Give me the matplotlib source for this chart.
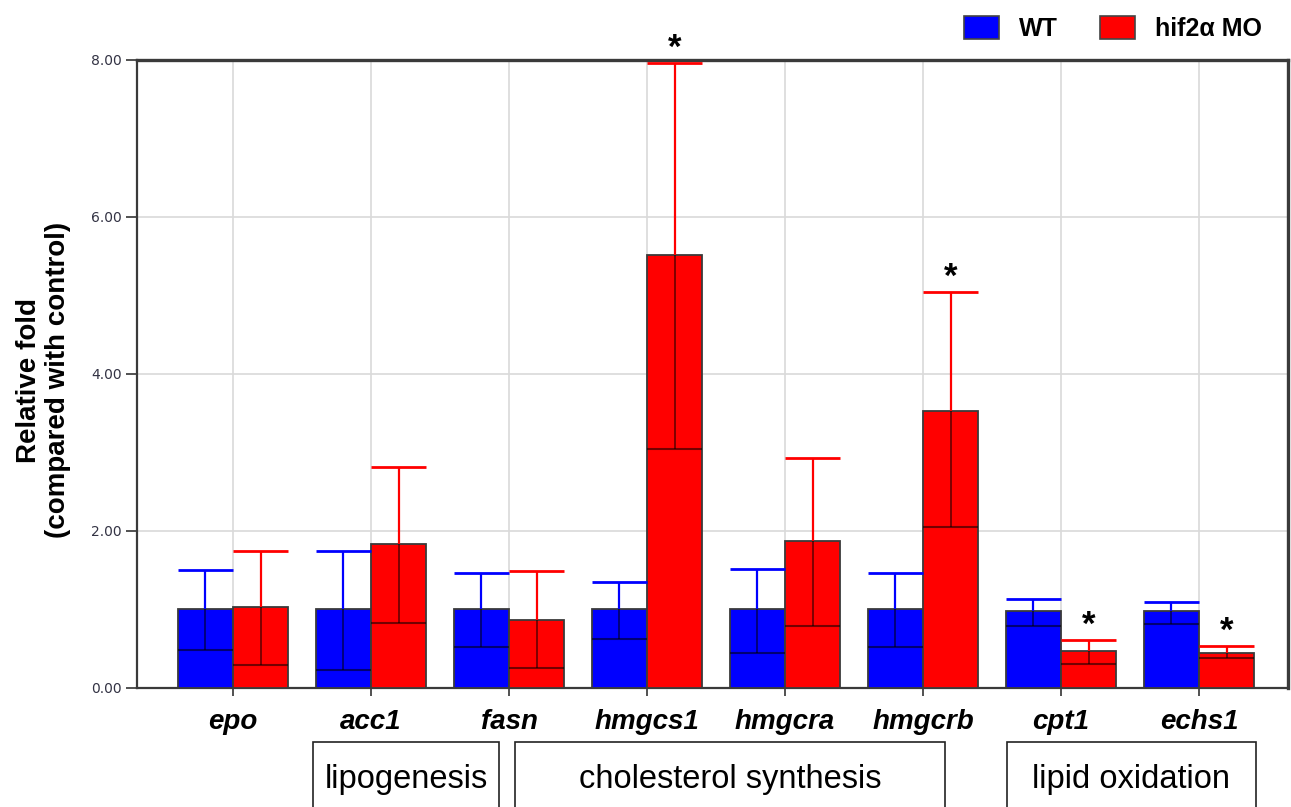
import matplotlib.pyplot as plt
import matplotlib.transforms as mtransforms
from matplotlib.patches import Patch, Rectangle
import numpy as np

plt.rcParams['font.family'] = ['Liberation Sans', 'DejaVu Sans']

genes = ['epo', 'acc1', 'fasn', 'hmgcs1', 'hmgcra', 'hmgcrb', 'cpt1', 'echs1']

# mean relative fold, top of error bar, bottom of error bar
wt_mean = [1.00, 1.00, 1.00, 1.00, 1.00, 1.00, 0.98, 0.98]
wt_upper = [1.50, 1.75, 1.46, 1.35, 1.51, 1.46, 1.13, 1.10]
wt_lower = [0.48, 0.23, 0.52, 0.62, 0.44, 0.52, 0.79, 0.82]

mo_mean = [1.03, 1.83, 0.87, 5.52, 1.87, 3.53, 0.47, 0.44]
mo_upper = [1.75, 2.81, 1.49, 7.96, 2.93, 5.04, 0.61, 0.53]
mo_lower = [0.29, 0.83, 0.26, 3.04, 0.79, 2.05, 0.31, 0.38]

significant = [False, False, False, True, False, True, True, True]

groups = ['lipogenesis', 'cholesterol synthesis', 'lipid oxidation']
group_spans = [(0.58, 1.93), (2.04, 5.16), (5.61, 7.41)]

series_labels = ['WT', 'hif2\u03b1 MO']
colors = ['#0000ff', '#ff0000']

fig = plt.figure(figsize=(12.91, 8.07), dpi=100)
ax = fig.add_axes([0.1061, 0.1475, 0.8916, 0.7782])

x = np.arange(len(genes))
w = 0.40

def draw_series(xpos, mean, upper, lower, color):
    ax.bar(xpos, mean, width=w, color=color, edgecolor='#3a3a3a', linewidth=1.3, zorder=3)
    # upper whisker in the series colour
    ax.vlines(xpos, mean, upper, color=color, lw=1.6, zorder=4)
    ax.hlines(upper, xpos - w / 2, xpos + w / 2, color=color, lw=2.0, zorder=4)
    # lower whisker drawn inside the bar
    ax.vlines(xpos, lower, mean, color='k', alpha=0.55, lw=1.3, zorder=4)
    ax.hlines(lower, xpos - w / 2, xpos + w / 2, color='k', alpha=0.55, lw=1.5, zorder=4)

draw_series(x - w / 2, wt_mean, wt_upper, wt_lower, colors[0])
draw_series(x + w / 2, mo_mean, mo_upper, mo_lower, colors[1])

for xi, up, sig in zip(x, mo_upper, significant):
    if sig:
        ax.text(xi + w / 2, up - 0.02, '*', ha='center', va='bottom',
                fontsize=25, fontweight='bold', zorder=5)

ax.set_xlim(-0.696, 7.645)
ax.set_ylim(0, 8)
ax.set_yticks([0, 2, 4, 6, 8])
ax.set_yticklabels(['0.00', '2.00', '4.00', '6.00', '8.00'],
                   fontsize=10, color='#333344', family='DejaVu Sans')
ax.set_xticks(x)
ax.set_xticklabels(genes, fontsize=20, fontweight='bold', fontstyle='italic')
ax.tick_params(axis='x', length=6, width=1.2, color='#333333', pad=9)
ax.tick_params(axis='y', length=8, width=1.2, color='#333333', pad=3)

ax.grid(True, color='#d9d9d9', lw=1.2)
ax.set_axisbelow(True)
for side in ['left', 'bottom', 'top', 'right']:
    ax.spines[side].set_color('#3a3a3a')
    ax.spines[side].set_linewidth(1.6)
ax.spines['top'].set_linewidth(2.4)
ax.spines['right'].set_linewidth(2.4)

ax.set_ylabel('Relative fold\n(compared with control)', fontsize=20,
              fontweight='bold', linespacing=1.15)
ax.yaxis.set_label_coords(-0.057, 0.49)

# pathway boxes under the gene names
trans = mtransforms.blended_transform_factory(ax.transData, fig.transFigure)
for name, (x0, x1) in zip(groups, group_spans):
    box = Rectangle((x0, -0.05), x1 - x0, 0.1305, transform=trans,
                    fill=False, edgecolor='#222222', lw=1.2, clip_on=False)
    fig.add_artist(box)
    fig.text((x0 + x1) / 2, 0.034, name, transform=trans, fontsize=23.5,
             ha='center', va='center')

handles = [Patch(facecolor=c, edgecolor='#444444', lw=1.2) for c in colors]
fig.legend(handles, series_labels, loc='upper right', bbox_to_anchor=(0.995, 1.008),
           ncol=2, frameon=False, handlelength=1.4, handleheight=1.05,
           columnspacing=1.7, handletextpad=0.8,
           prop={'size': 18, 'weight': 'bold'})

fig.savefig('out.png', dpi=100)
